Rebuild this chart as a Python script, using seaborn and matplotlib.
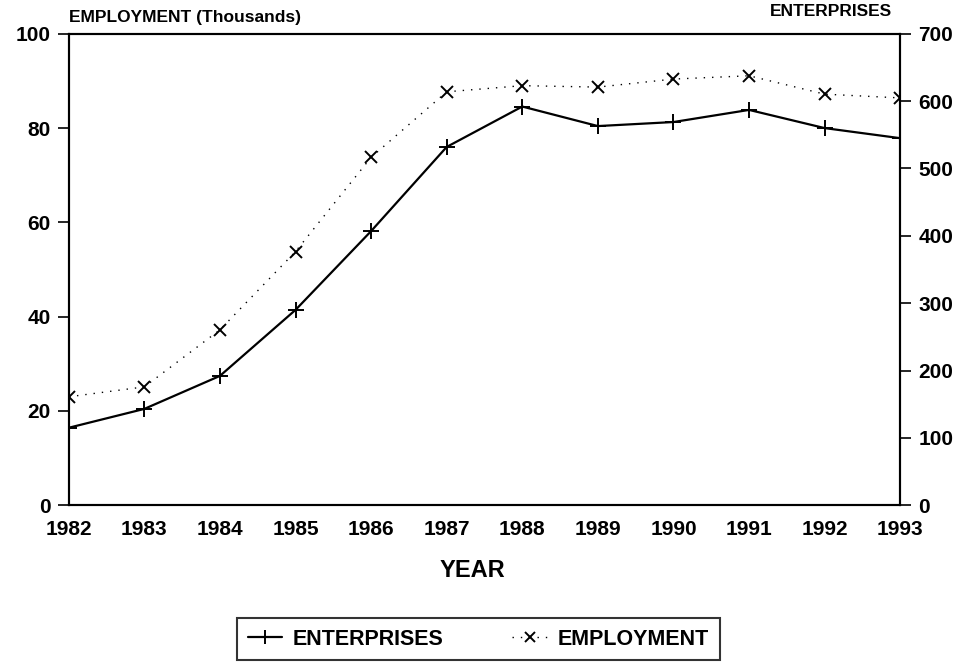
import matplotlib
matplotlib.use("Agg")
import matplotlib.pyplot as plt
import seaborn as sns
import pandas as pd

years = [1982, 1983, 1984, 1985, 1986, 1987, 1988, 1989, 1990, 1991, 1992, 1993]
enterprises = [115, 143, 192, 290, 407, 532, 592, 563, 569, 587, 560, 545]
employment = [23.0, 25.1, 37.2, 53.8, 73.8, 87.7, 89.0, 88.7, 90.4, 91.1, 87.2, 86.4]
left_ticks = [0, 20, 40, 60, 80, 100]
right_ticks = [0, 100, 200, 300, 400, 500, 600, 700]

df = pd.DataFrame({"year": years, "enterprises": enterprises, "employment": employment})

sns.set_theme(style="white")
plt.rcParams["font.family"] = ["Liberation Sans", "DejaVu Sans"]
plt.rcParams["font.weight"] = "bold"
plt.rcParams["text.color"] = "black"
plt.rcParams["xtick.color"] = "black"
plt.rcParams["ytick.color"] = "black"
plt.rcParams["axes.labelcolor"] = "black"

fig = plt.figure(figsize=(9.68, 6.63), dpi=100)
ax = fig.add_axes([0.071, 0.238, 0.859, 0.711])
ax2 = ax.twinx()

sns.lineplot(data=df, x="year", y="employment", ax=ax, color="black",
             linestyle=(0, (1, 5)), linewidth=1.0, marker="x", markersize=9,
             markeredgewidth=1.4, markeredgecolor="black", label="EMPLOYMENT", legend=False)
sns.lineplot(data=df, x="year", y="enterprises", ax=ax2, color="black",
             linestyle="-", linewidth=1.6, marker="+", markersize=12,
             markeredgewidth=1.4, markeredgecolor="black", label="ENTERPRISES", legend=False)

ax.set_xlim(1982, 1993)
ax.set_ylim(0, 100)
ax2.set_ylim(0, 700)
ax.set_xticks(years)
ax.set_xticklabels([str(y) for y in years], fontsize=15, fontweight="bold")
ax.set_yticks(left_ticks)
ax.set_yticklabels([str(v) for v in left_ticks], fontsize=15, fontweight="bold")
ax2.set_yticks(right_ticks)
ax2.set_yticklabels([str(v) for v in right_ticks], fontsize=15, fontweight="bold")
ax.tick_params(axis="y", direction="out", length=8, width=1.2, color="black", pad=5, left=True)
ax.tick_params(axis="x", length=0, pad=11)
ax2.tick_params(axis="y", direction="out", length=8, width=1.2, color="black", pad=5, right=True)
ax.set_xlabel("YEAR", fontsize=17, fontweight="bold")
ax.xaxis.set_label_coords(0.486, -0.115)
ax.set_ylabel("")
ax2.set_ylabel("")
for a in (ax, ax2):
    for s in a.spines.values():
        s.set_color("black")
        s.set_linewidth(1.5)

fig.text(0.071, 0.963, "EMPLOYMENT (Thousands)", fontsize=12.5, fontweight="bold", ha="left", va="bottom")
fig.text(0.922, 0.972, "ENTERPRISES", fontsize=12.5, fontweight="bold", ha="right", va="bottom")

h1, l1 = ax2.get_legend_handles_labels()
h2, l2 = ax.get_legend_handles_labels()
leg = fig.legend(h1 + h2, l1 + l2, loc="center", bbox_to_anchor=(0.494, 0.036), ncol=2,
                 frameon=True, fancybox=False, edgecolor="black",
                 handlelength=1.6, handletextpad=0.5, columnspacing=3.2, borderpad=0.5,
                 markerscale=0.8, prop={"weight": "bold", "size": 15.5})
leg.get_frame().set_linewidth(1.5)

fig.savefig("out.png", dpi=100, facecolor="white")
